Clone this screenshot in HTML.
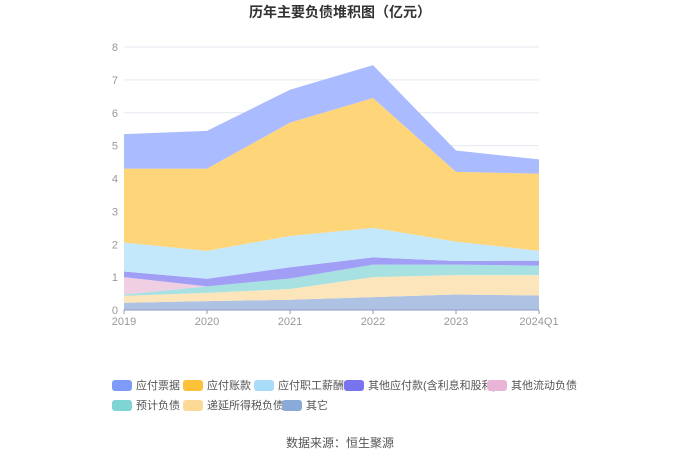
<!DOCTYPE html>
<html><head><meta charset="utf-8"><style>
body{margin:0;background:#fff;font-family:"Liberation Sans","Noto Sans CJK SC",sans-serif;}
svg text{font-family:"Liberation Sans","Noto Sans CJK SC",sans-serif;}
</style></head><body>
<svg id="c" width="680" height="460">
<text x="340" y="17" text-anchor="middle" font-size="14" font-weight="bold" fill="#333">历年主要负债堆积图（亿元）</text>
<g id="grid"></g><g id="areas"></g><g id="axes"></g><g id="legend"></g>
<text x="340" y="447" text-anchor="middle" font-size="12" fill="#555">数据来源：恒生聚源</text>
</svg>
<script>
const categories=["2019","2020","2021","2022","2023","2024Q1"];
const seriesNames=["其它","递延所得税负债","预计负债","其他流动负债","其他应付款(含利息和股利)","应付职工薪酬","应付账款","应付票据"];
const other=[0.22,0.27,0.31,0.39,0.47,0.44];
const deferredTax=[0.21,0.25,0.33,0.61,0.59,0.62];
const provisions=[0.04,0.20,0.32,0.38,0.32,0.29];
const otherCurrent=[0.53,0,0,0,0,0];
const otherPayables=[0.17,0.23,0.34,0.22,0.11,0.15];
const salaries=[0.88,0.85,0.95,0.90,0.59,0.30];
const accountsPayable=[2.25,2.50,3.45,3.95,2.12,2.35];
const notesPayable=[1.05,1.15,1.00,1.00,0.65,0.43];
const yTicks=[0,1,2,3,4,5,6,7,8];
const series=[other,deferredTax,provisions,otherCurrent,otherPayables,salaries,accountsPayable,notesPayable];
const fills=["#aec2e4","#fde5bb","#a8e1e1","#f0cfe3","#a09ff5","#c3e8fb","#ffd57a","#aabcff"];
const legendColors=["#8aaada","#fdd996","#7fd4d4","#e9b4d8","#7873ef","#a9dcf9","#fdc13a","#7f9bf8"];
const slugs=["other","deferred-tax","provisions","other-current","other-payables","salaries","accounts-payable","notes-payable"];
const NS="http://www.w3.org/2000/svg";
const x0=124,x1=539,y0=310,y8=47;
const X=i=>x0+(x1-x0)*i/(categories.length-1);
const Y=v=>y0-(y0-y8)*v/8;
function mk(t,a,p){const e=document.createElementNS(NS,t);for(const k in a)e.setAttribute(k,a[k]);p.appendChild(e);return e;}
const grid=document.getElementById('grid'),axes=document.getElementById('axes'),areas=document.getElementById('areas'),legend=document.getElementById('legend');
yTicks.forEach(t=>{
 if(t>0){const l=mk('line',{x1:x0,x2:x1,y1:Y(t),y2:Y(t),stroke:'#e6e9f2'},grid);
 
 }
 const tx=mk('text',{x:x0-6,y:Y(t)+4,'text-anchor':'end','font-size':11,fill:'#999'},axes);tx.textContent=t;
 
 
});
let cum=categories.map(()=>0);
series.forEach((s,k)=>{
 const top=cum.map((c,i)=>c+s[i]);
 let d='M'+top.map((v,i)=>X(i)+','+Y(v)).join('L');
 for(let i=categories.length-1;i>=0;i--)d+='L'+X(i)+','+Y(cum[i]);
 const p=mk('path',{d:d+'Z',fill:fills[k]},areas);
 
 
 cum=top;
});
const ax=mk('line',{x1:x0,x2:x1,y1:y0,y2:y0,stroke:'#8a9bc4'},axes);


categories.forEach((c,i)=>{
 mk('line',{x1:X(i),x2:X(i),y1:y0,y2:y0+4,stroke:'#8a9bc4'},axes);
 const tx=mk('text',{x:X(i),y:y0+15,'text-anchor':'middle','font-size':11,fill:'#999'},axes);tx.textContent=c;
 
 
});
const legendOrder=[7,6,5,4,3,2,1,0];
const pos=[[112,385],[183,385],[254,385],[344,385],[487,385],[112,405],[183,405],[282,405]];
legendOrder.forEach((k,j)=>{
 const g=mk('g',{},legend);
 
 
 mk('rect',{x:pos[j][0],y:pos[j][1]-5,width:20,height:11,rx:3,fill:legendColors[k]},g);
 const t=mk('text',{x:pos[j][0]+24,y:pos[j][1]+4,'font-size':11,fill:'#555'},g);t.textContent=seriesNames[k];
});
</script>
</body></html>
